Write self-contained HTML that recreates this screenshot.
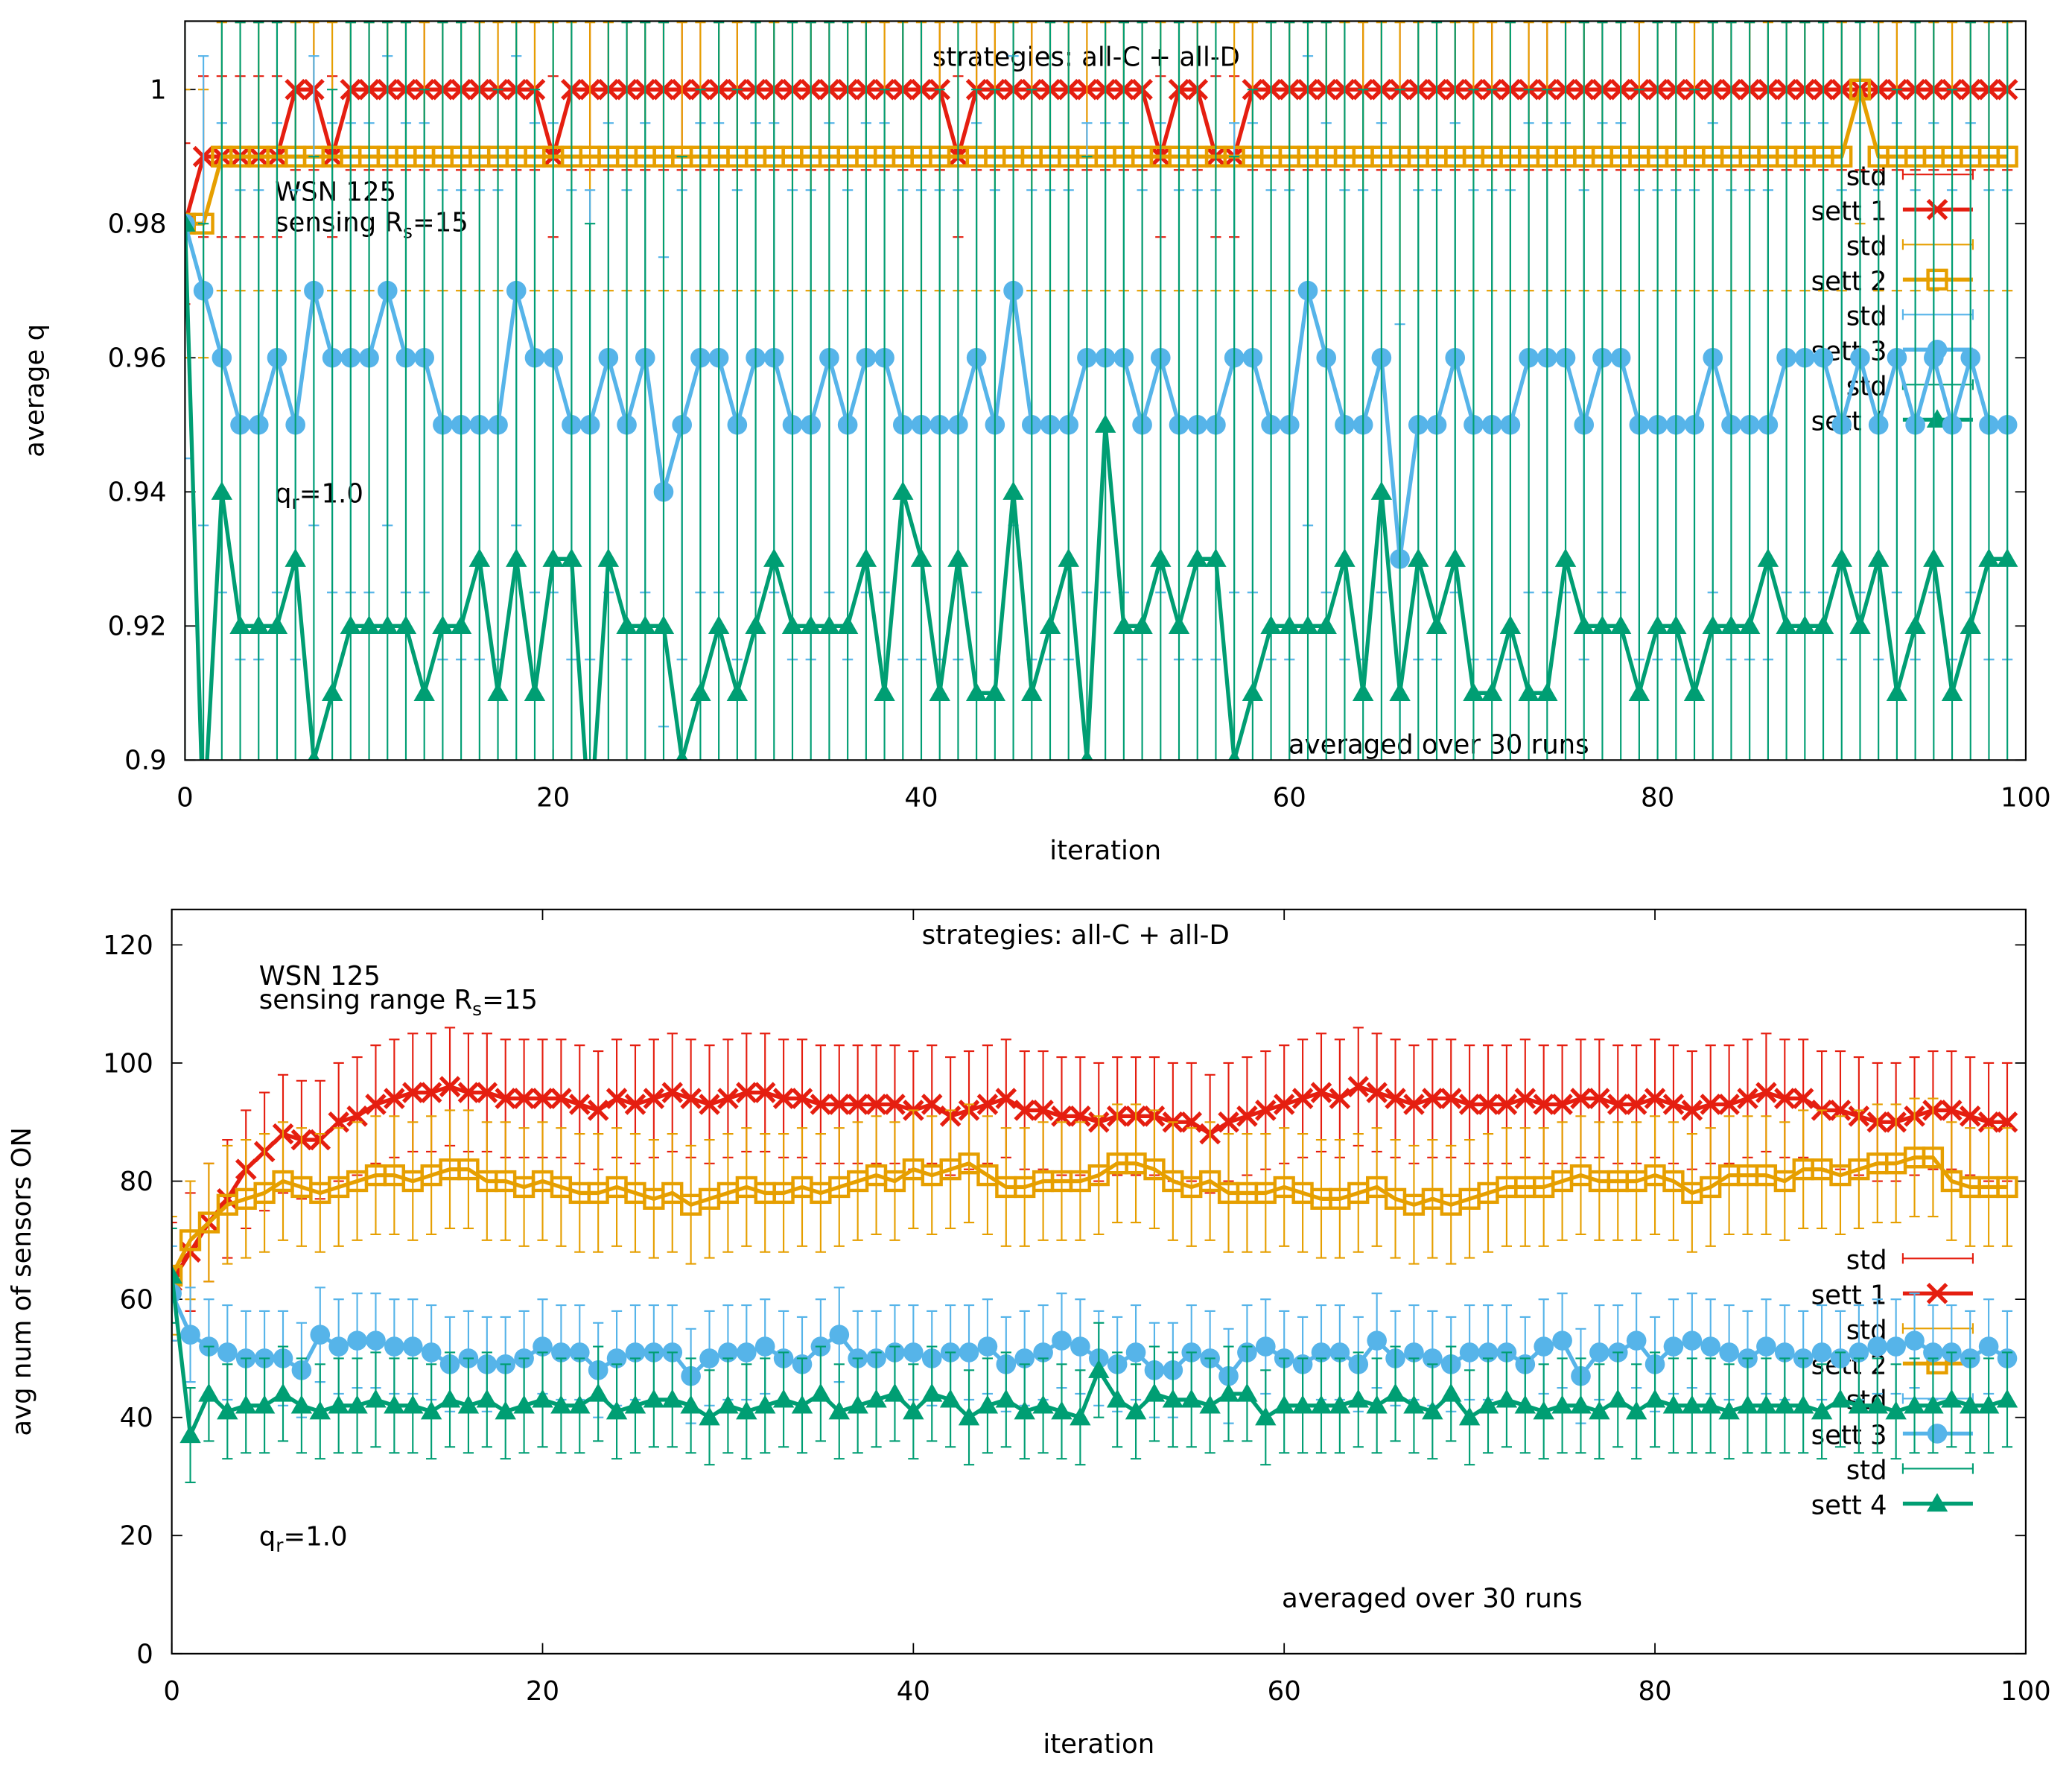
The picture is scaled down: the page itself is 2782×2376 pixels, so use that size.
<!DOCTYPE html>
<html><head><meta charset="utf-8"><style>
html,body{margin:0;padding:0;background:#fff}
svg{display:block}
text{font-family:"DejaVu Sans","Liberation Sans",sans-serif;fill:#000}
</style></head><body>
<svg id="chart" width="2782" height="2376" viewBox="0 0 1568 1339" preserveAspectRatio="none" xmlns="http://www.w3.org/2000/svg">
<defs>
<clipPath id="clipTop"><rect x="140" y="16" width="1393" height="559"/></clipPath>
<clipPath id="clipBot"><rect x="130" y="688" width="1403" height="563"/></clipPath>
</defs>
<g id="top"></g>
<g id="bot"></g>
</svg>
<script>
const iterations = Array.from({length:100},(_,i)=>i);
// Top panel: average q
const topS1 = [0.98,0.99,0.99,0.99,0.99,0.99,1,1,0.99,1, 1,1,1,1,1,1,1,1,1,1, 0.99,1,1,1,1,1,1,1,1,1, 1,1,1,1,1,1,1,1,1,1, 1,1,0.99,1,1,1,1,1,1,1, 1,1,1,0.99,1,1,0.99,0.99,1,1, 1,1,1,1,1,1,1,1,1,1, 1,1,1,1,1,1,1,1,1,1, 1,1,1,1,1,1,1,1,1,1, 1,1,1,1,1,1,1,1,1,1];
const topS2 = [0.98,0.98,0.99,0.99,0.99,0.99,0.99,0.99,0.99,0.99, 0.99,0.99,0.99,0.99,0.99,0.99,0.99,0.99,0.99,0.99, 0.99,0.99,0.99,0.99,0.99,0.99,0.99,0.99,0.99,0.99, 0.99,0.99,0.99,0.99,0.99,0.99,0.99,0.99,0.99,0.99, 0.99,0.99,0.99,0.99,0.99,0.99,0.99,0.99,0.99,0.99, 0.99,0.99,0.99,0.99,0.99,0.99,0.99,0.99,0.99,0.99, 0.99,0.99,0.99,0.99,0.99,0.99,0.99,0.99,0.99,0.99, 0.99,0.99,0.99,0.99,0.99,0.99,0.99,0.99,0.99,0.99, 0.99,0.99,0.99,0.99,0.99,0.99,0.99,0.99,0.99,0.99, 0.99,1,0.99,0.99,0.99,0.99,0.99,0.99,0.99,0.99];
const topS3 = [0.98,0.97,0.96,0.95,0.95,0.96,0.95,0.97,0.96,0.96, 0.96,0.97,0.96,0.96,0.95,0.95,0.95,0.95,0.97,0.96, 0.96,0.95,0.95,0.96,0.95,0.96,0.94,0.95,0.96,0.96, 0.95,0.96,0.96,0.95,0.95,0.96,0.95,0.96,0.96,0.95, 0.95,0.95,0.95,0.96,0.95,0.97,0.95,0.95,0.95,0.96, 0.96,0.96,0.95,0.96,0.95,0.95,0.95,0.96,0.96,0.95, 0.95,0.97,0.96,0.95,0.95,0.96,0.93,0.95,0.95,0.96, 0.95,0.95,0.95,0.96,0.96,0.96,0.95,0.96,0.96,0.95, 0.95,0.95,0.95,0.96,0.95,0.95,0.95,0.96,0.96,0.96, 0.95,0.96,0.95,0.96,0.95,0.96,0.95,0.96,0.95,0.95];
const topS4 = [0.98,0.89,0.94,0.92,0.92,0.92,0.93,0.90,0.91,0.92, 0.92,0.92,0.92,0.91,0.92,0.92,0.93,0.91,0.93,0.91, 0.93,0.93,0.89,0.93,0.92,0.92,0.92,0.90,0.91,0.92, 0.91,0.92,0.93,0.92,0.92,0.92,0.92,0.93,0.91,0.94, 0.93,0.91,0.93,0.91,0.91,0.94,0.91,0.92,0.93,0.90, 0.95,0.92,0.92,0.93,0.92,0.93,0.93,0.90,0.91,0.92, 0.92,0.92,0.92,0.93,0.91,0.94,0.91,0.93,0.92,0.93, 0.91,0.91,0.92,0.91,0.91,0.93,0.92,0.92,0.92,0.91, 0.92,0.92,0.91,0.92,0.92,0.92,0.93,0.92,0.92,0.92, 0.93,0.92,0.93,0.91,0.92,0.93,0.91,0.92,0.93,0.93];
const topStd = [0.012,0.02,0.035,0.09];
const topYTicks = [0.9,0.92,0.94,0.96,0.98,1];
const topYLabels = ["0.9","0.92","0.94","0.96","0.98","1"];
const xTicks = [0,20,40,60,80,100];
// Bottom panel: avg num of sensors ON
const botS1 = [63,68,73,77,82,85,88,87,87,90, 91,93,94,95,95,96,95,95,94,94, 94,94,93,92,94,93,94,95,94,93, 94,95,95,94,94,93,93,93,93,93, 92,93,91,92,93,94,92,92,91,91, 90,91,91,91,90,90,88,90,91,92, 93,94,95,94,96,95,94,93,94,94, 93,93,93,94,93,93,94,94,93,93, 94,93,92,93,93,94,95,94,94,92, 92,91,90,90,91,92,92,91,90,90];
const botS2 = [64,70,73,76,77,78,80,79,78,79, 80,81,81,80,81,82,82,80,80,79, 80,79,78,78,79,78,77,78,76,77, 78,79,78,78,79,78,79,80,81,80, 82,81,82,83,81,79,79,80,80,80, 81,83,83,82,80,79,80,78,78,78, 79,78,77,77,78,79,77,76,77,76, 77,78,79,79,79,80,81,80,80,80, 81,80,78,79,81,81,81,80,82,82, 81,82,83,83,84,84,80,79,79,79];
const botS3 = [61,54,52,51,50,50,50,48,54,52, 53,53,52,52,51,49,50,49,49,50, 52,51,51,48,50,51,51,51,47,50, 51,51,52,50,49,52,54,50,50,51, 51,50,51,51,52,49,50,51,53,52, 50,49,51,48,48,51,50,47,51,52, 50,49,51,51,49,53,50,51,50,49, 51,51,51,49,52,53,47,51,51,53, 49,52,53,52,51,50,52,51,50,51, 50,51,52,52,53,51,51,50,52,50];
const botS4 = [64,37,44,41,42,42,44,42,41,42, 42,43,42,42,41,43,42,43,41,42, 43,42,42,44,41,42,43,43,42,40, 42,41,42,43,42,44,41,42,43,44, 41,44,43,40,42,43,41,42,41,40, 48,43,41,44,43,43,42,44,44,40, 42,42,42,42,43,42,44,42,41,44, 40,42,43,42,41,42,42,41,43,41, 43,42,42,42,41,42,42,42,42,41, 43,42,42,41,42,42,43,42,42,43];
const botStd = [10,10,8,8];
const botYTicks = [0,20,40,60,80,100,120];
const seriesNames = ["sett 1","sett 2","sett 3","sett 4"];
const colors = ["#e51e10","#e69f00","#56b4e9","#009e73"];

const NS = "http://www.w3.org/2000/svg";
function mk(parent, tag, attrs, text){
  const e = document.createElementNS(NS, tag);
  for (const k in attrs) e.setAttribute(k, attrs[k]);
  if (text !== undefined) e.textContent = text;
  parent.appendChild(e);
  return e;
}
function marker(g, kind, cx, cy, col){
  let m;
  if (kind===0){
    m = mk(g,'path',{d:`M${cx-7},${cy-7}L${cx+7},${cy+7}M${cx-7},${cy+7}L${cx+7},${cy-7}`,stroke:col,'stroke-width':3,fill:'none'});
  } else if (kind===1){
    m = mk(g,'rect',{x:cx-7,y:cy-7,width:14,height:14,stroke:col,'stroke-width':2.5,fill:'none'});
  } else if (kind===2){
    m = mk(g,'circle',{cx:cx,cy:cy,r:7.5,fill:col});
  } else {
    m = mk(g,'path',{d:`M${cx},${cy-8}L${cx+8},${cy+6}L${cx-8},${cy+6}Z`,fill:col});
  }
  
  
}

function panel(root, cfg){
  const {L,T,R,B,ymin,ymax,yTicks,yLabels,series,std,clip,ylabel,xlabY,legY,ann} = cfg;
  const xs = v => L + (v/100)*(R-L);
  const ys = v => B - (v-ymin)/(ymax-ymin)*(B-T);
  const axes = mk(root,'g',{});
  
  
  yTicks.forEach((t,i)=>{
    const y = ys(t);
    mk(axes,'line',{x1:L,x2:L+8,y1:y,y2:y,stroke:'#000','stroke-width':1});
    mk(axes,'line',{x1:R-8,x2:R,y1:y,y2:y,stroke:'#000','stroke-width':1});
    const tl = mk(axes,'text',{x:L-14,y:y+7,'text-anchor':'end','font-size':20}, yLabels[i]);
    
    
  });
  xTicks.forEach(t=>{
    const x = xs(t);
    mk(axes,'line',{x1:x,x2:x,y1:B,y2:B-8,stroke:'#000','stroke-width':1});
    mk(axes,'line',{x1:x,x2:x,y1:T,y2:T+8,stroke:'#000','stroke-width':1});
    const tl = mk(axes,'text',{x:x,y:B+35,'text-anchor':'middle','font-size':20}, String(t));
    
    
  });
  const xl = mk(axes,'text',{x:(L+R)/2,y:xlabY,'text-anchor':'middle','font-size':20},'iteration');
  
  
  const yl = mk(axes,'text',{x:0,y:0,'text-anchor':'middle','font-size':20,transform:`translate(${L-107},${(T+B)/2}) rotate(-90)`},ylabel);
  
  
  ann.forEach(a=>{
    const t = mk(root,'text',{x:a.x,y:a.y,'font-size':20,'text-anchor':a.anchor||'start'});
    t.innerHTML = a.html;
    
    
  });
  const lg = mk(root,'g',{});
  
  
  series.forEach((s,k)=>{
    const y1 = legY + k*2*26.5, y2 = y1 + 26.5;
    const c = colors[k];
    const e1 = mk(lg,'g',{});
    
    
    mk(e1,'text',{x:1428,y:y1+8,'text-anchor':'end','font-size':20},'std');
    mk(e1,'line',{x1:1440,x2:1493,y1:y1,y2:y1,stroke:c,'stroke-width':1.2});
    mk(e1,'line',{x1:1440,x2:1440,y1:y1-4,y2:y1+4,stroke:c,'stroke-width':1.2});
    mk(e1,'line',{x1:1493,x2:1493,y1:y1-4,y2:y1+4,stroke:c,'stroke-width':1.2});
    const e2 = mk(lg,'g',{});
    
    
    mk(e2,'text',{x:1428,y:y2+8,'text-anchor':'end','font-size':20},seriesNames[k]);
    mk(e2,'line',{x1:1440,x2:1493,y1:y2,y2:y2,stroke:c,'stroke-width':3});
    marker(e2,k,1466,y2,c);
  });
  const dg = mk(root,'g',{'clip-path':`url(#${clip})`});
  
  
  series.forEach((vals,k)=>{
    const c = colors[k];
    const eb = mk(dg,'g',{});
    
    
    vals.forEach((v,i)=>{
      const x = xs(iterations[i]), ya = ys(v+std[k]), yb = ys(v-std[k]);
      const ln = mk(eb,'path',{d:`M${x},${ya}L${x},${yb}M${x-4},${ya}L${x+4},${ya}M${x-4},${yb}L${x+4},${yb}`,stroke:c,'stroke-width':1.2,fill:'none'});
      
      
    });
    const pts = vals.map((v,i)=>`${xs(iterations[i])},${ys(v)}`).join(' ');
    const pl = mk(dg,'polyline',{points:pts,fill:'none',stroke:c,'stroke-width':3,'stroke-linejoin':'round'});
    
    
    const mg = mk(dg,'g',{});
    
    
    vals.forEach((v,i)=>marker(mg,k,xs(iterations[i]),ys(v),c));
  });
  mk(root,'rect',{x:L,y:T,width:R-L,height:B-T,fill:'none',stroke:'#000','stroke-width':1.2});
}

panel(document.getElementById('top'),{
  L:140,T:16,R:1533,B:575,ymin:0.9,ymax:1.0102,yTicks:topYTicks,yLabels:topYLabels,
  series:[topS1,topS2,topS3,topS4],std:topStd,clip:'clipTop',ylabel:'average q',xlabY:650,legY:132,
  ann:[
    {x:822,y:50,anchor:'middle',html:'strategies: all-C + all-D',name:'top-title'},
    {x:208,y:152,html:'WSN 125',name:'wsn-label'},
    {x:208,y:175,html:'sensing R<tspan font-size="14" dy="5">s</tspan><tspan dy="-5">=15</tspan>',name:'sensing-label'},
    {x:208,y:380,html:'q<tspan font-size="14" dy="5">r</tspan><tspan dy="-5">=1.0</tspan>',name:'qr-label'},
    {x:975,y:570,html:'averaged over 30 runs',name:'runs-label'}
  ]
});
panel(document.getElementById('bot'),{
  L:130,T:688,R:1533,B:1251,ymin:0,ymax:126,yTicks:botYTicks,yLabels:botYTicks.map(String),
  series:[botS1,botS2,botS3,botS4],std:botStd,clip:'clipBot',ylabel:'avg num of sensors ON',xlabY:1326,legY:952,
  ann:[
    {x:814,y:714,anchor:'middle',html:'strategies: all-C + all-D',name:'bottom-title'},
    {x:196,y:745,html:'WSN 125',name:'wsn-label'},
    {x:196,y:763,html:'sensing range R<tspan font-size="14" dy="5">s</tspan><tspan dy="-5">=15</tspan>',name:'sensing-label'},
    {x:196,y:1169,html:'q<tspan font-size="14" dy="5">r</tspan><tspan dy="-5">=1.0</tspan>',name:'qr-label'},
    {x:970,y:1216,html:'averaged over 30 runs',name:'runs-label'}
  ]
});
</script>
</body></html>
